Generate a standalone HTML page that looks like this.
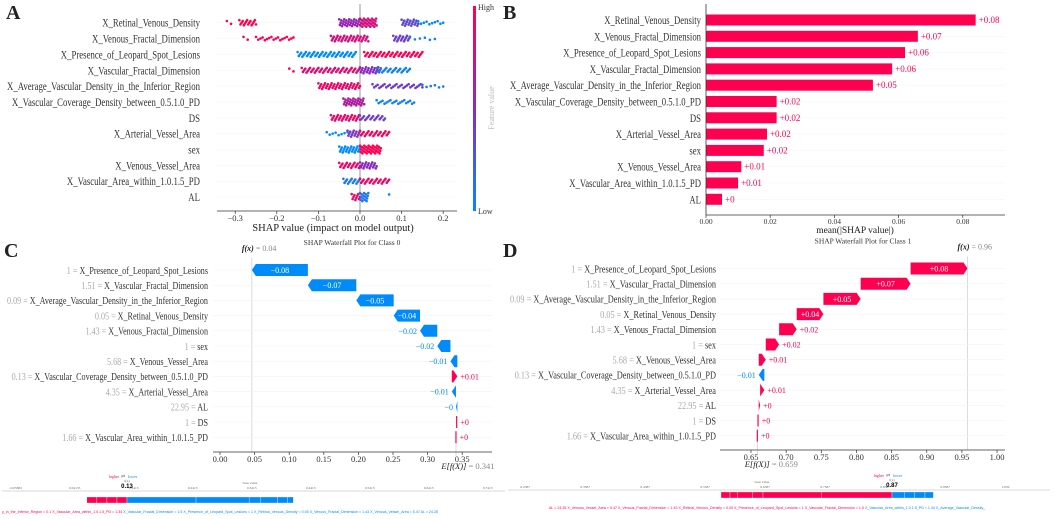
<!DOCTYPE html>
<html><head><meta charset="utf-8"><style>
html,body{margin:0;padding:0;background:#fff;}
svg{display:block;font-family:"Liberation Serif",serif;}
</style></head><body>
<svg id="fig" width="1059" height="519" viewBox="0 0 1059 519" xmlns="http://www.w3.org/2000/svg">
<defs>
<linearGradient id="cbar" x1="0" y1="1" x2="0" y2="0">
<stop offset="0" stop-color="#008bfb"/><stop offset="0.5" stop-color="#8a2bbf"/><stop offset="1" stop-color="#ff0051"/>
</linearGradient>
</defs>
<g font-weight="bold" font-size="20" fill="#222">
<text x="6" y="19">A</text>
<text x="503" y="19">B</text>
<text x="4" y="257">C</text>
<text x="503" y="257">D</text>
</g>
</svg>
<script>
// ---------- data ----------
const beeFeatures = ["X_Retinal_Venous_Density","X_Venous_Fractal_Dimension","X_Presence_of_Leopard_Spot_Lesions","X_Vascular_Fractal_Dimension","X_Average_Vascular_Density_in_the_Inferior_Region","X_Vascular_Coverage_Density_between_0.5.1.0_PD","DS","X_Arterial_Vessel_Area","sex","X_Venous_Vessel_Area","X_Vascular_Area_within_1.0.1.5_PD","AL"];
// clusters per feature: [shapMin, shapMax, count, featureValue(0 low..1 high)]
const beeClusters = [
 [[-0.32,-0.31,2,1],[-0.29,-0.25,16,1],[-0.05,0.0,30,0.55],[0.0,0.04,30,0.8],[0.1,0.14,20,0.35],[0.14,0.2,10,0]],
 [[-0.28,-0.27,2,1],[-0.25,-0.16,18,1],[-0.07,0.02,40,0.8],[0.08,0.12,18,0.4],[0.12,0.18,6,0.05]],
 [[-0.15,-0.01,50,0],[0.01,0.15,50,1]],
 [[-0.17,-0.16,2,1],[-0.14,0.0,50,0.85],[0.0,0.05,25,0.5],[0.04,0.12,25,0.05]],
 [[-0.1,0.0,45,0.9],[0.03,0.15,30,0.4],[0.15,0.2,6,0.1]],
 [[-0.04,0.01,30,0.65],[0.04,0.13,20,0.05]],
 [[-0.07,0.0,30,0.9],[0.0,0.06,20,0.4]],
 [[-0.08,-0.03,8,0],[-0.03,0.0,15,0.45],[0.0,0.07,25,0.95]],
 [[-0.05,0.0,25,0],[0.0,0.05,35,1]],
 [[-0.05,0.0,20,0.9],[0.0,0.04,20,0.5]],
 [[-0.04,0.0,15,0.1],[0.0,0.07,25,0.9]],
 [[-0.02,0.0,10,0.9],[0.0,0.02,15,0.1],[0.07,0.07,1,0]]
];
const beeTicks = [-0.3,-0.2,-0.1,0.0,0.1,0.2];

const barFeatures = beeFeatures;
const barValues = [0.084,0.066,0.062,0.058,0.052,0.022,0.022,0.019,0.018,0.011,0.010,0.005];
const barLabels = ["+0.08","+0.07","+0.06","+0.06","+0.05","+0.02","+0.02","+0.02","+0.02","+0.01","+0.01","+0"];
const barTicks = [0,0.02,0.04,0.06,0.08];
const barTickLabels = ["0.00","0.02","0.04","0.06","0.08"];

const wfFeatures = ["X_Presence_of_Leopard_Spot_Lesions","X_Vascular_Fractal_Dimension","X_Average_Vascular_Density_in_the_Inferior_Region","X_Retinal_Venous_Density","X_Venous_Fractal_Dimension","sex","X_Venous_Vessel_Area","X_Vascular_Coverage_Density_between_0.5.1.0_PD","X_Arterial_Vessel_Area","AL","DS","X_Vascular_Area_within_1.0.1.5_PD"];
const wfFeatureValues = ["1","1.51","0.09","0.05","1.43","1","5.68","0.13","4.35","22.95","1","1.66"];
const wfC_values = [-0.081,-0.070,-0.054,-0.038,-0.025,-0.019,-0.010,0.008,-0.006,-0.002,0.001,0.001];
const wfC_labels = ["\u22120.08","\u22120.07","\u22120.05","\u22120.04","\u22120.02","\u22120.02","\u22120.01","+0.01","\u22120.01","\u22120","+0","+0"];
const wfC_base = 0.341;
const wfC_ticks = [0,0.05,0.1,0.15,0.2,0.25,0.3,0.35];
const wfC_tickLabels = ["0.00","0.05","0.10","0.15","0.20","0.25","0.30","0.35"];
const wfD_values = [0.081,0.071,0.053,0.038,0.025,0.019,0.010,-0.008,0.006,0.002,0.001,0.001];
const wfD_labels = ["+0.08","+0.07","+0.05","+0.04","+0.02","+0.02","+0.01","\u22120.01","+0.01","+0","+0","+0"];
const wfD_base = 0.659;
const wfD_ticks = [0.65,0.7,0.75,0.8,0.85,0.9,0.95,1.0];
const wfD_tickLabels = ["0.65","0.70","0.75","0.80","0.85","0.90","0.95","1.00"];

// force plots: segment widths in output units
const forceC_red = [0.017,0.017,0.017,0.017];
const forceC_blue = [0.117,0.09,0.019,0.029,0.017,0.01];
const forceC_fx = 0.13;
const forceD_red = [0.015,0.012,0.025,0.018,0.097,0.118];
const forceD_blue = [0.021,0.017,0.017,0.014];
const forceD_fx = 0.87;

// ---------- helpers ----------
const svg = document.getElementById('fig');
const NS = 'http://www.w3.org/2000/svg';
function mk(tag, attrs, parent){const e=document.createElementNS(NS,tag);for(const k in attrs)e.setAttribute(k,attrs[k]);(parent||svg).appendChild(e);return e;}
function txt(x,y,s,attrs,parent){const e=mk('text',Object.assign({x:x,y:y},attrs||{}),parent);e.textContent=s;return e;}
function fit(list,maxW){
  let m=0;const lens=list.map(e=>{const l=e.getComputedTextLength();m=Math.max(m,l);return l;});
  if(m<=0)return;const f=maxW/m;
  list.forEach((e,i)=>{e.setAttribute('textLength',(lens[i]*f).toFixed(1));e.setAttribute('lengthAdjust','spacingAndGlyphs');});
}
const RED='#ff0051', BLUE='#008bfb';
function mixColor(t){
  const a=[0,139,251], m=[138,43,191], b=[255,0,81];
  let c;
  if(t<0.5){const u=t/0.5;c=a.map((v,i)=>Math.round(v+(m[i]-v)*u));}
  else{const u=(t-0.5)/0.5;c=m.map((v,i)=>Math.round(v+(b[i]-v)*u));}
  return 'rgb('+c.join(',')+')';
}

// ---------- Panel A: beeswarm ----------
(function(){
  const g=mk('g',{});
  
  
  const x0=360, k=416; const xs=v=>x0+v*k;
  const y0=22.7, dy=15.85; const ys=i=>y0+i*dy;
  const labs=[];
  beeFeatures.forEach((f,i)=>{
    mk('line',{x1:217,x2:457,y1:ys(i),y2:ys(i),stroke:'#eee','stroke-width':0.6,'stroke-dasharray':'1,1'},g);
    const t=txt(200,ys(i)+4,f,{'text-anchor':'end','font-size':11.5,fill:'#333'},g);
    
    
    labs.push(t);
  });
  fit(labs,193);
  mk('line',{x1:xs(0),x2:xs(0),y1:4,y2:211,stroke:'#aaa','stroke-width':1.2},g);
  beeClusters.forEach((cl,i)=>{
    cl.forEach(c=>{
      const n=c[2];
      for(let j=0;j<n;j++){
        const v = n>1 ? c[0]+(c[1]-c[0])*j/(n-1) : c[0];
        const spread = Math.min(4.5, 0.8+ n/(Math.max(1,(c[1]-c[0])*k))*1.8);
        const off = (((j*5)%7)-3)/3*spread;
        const d=mk('circle',{cx:xs(v),cy:ys(i)+off,r:1.3,fill:mixColor(c[3])},g);
        
        
      }
    });
  });
  mk('line',{x1:217,x2:457,y1:211,y2:211,stroke:'#333','stroke-width':0.8},g);
  beeTicks.forEach(t=>{
    mk('line',{x1:xs(t),x2:xs(t),y1:211,y2:214,stroke:'#333','stroke-width':0.7},g);
    const l=txt(xs(t),221,(t<0?'\u2212':'')+Math.abs(t).toFixed(1),{'text-anchor':'middle','font-size':8.5,fill:'#333'},g);
    
    
  });
  const xl=txt(333,231,'SHAP value (impact on model output)',{'text-anchor':'middle','font-size':10.5,fill:'#222'},g);
  
  
  const cb=mk('rect',{x:473,y:6,width:3,height:205,fill:'url(#cbar)'},g);
  
  
  txt(478,10,'High',{'font-size':8,fill:'#333'},g);
  txt(478,214,'Low',{'font-size':8,fill:'#333'},g);
  const fv=txt(0,0,'Feature value',{'font-size':8,fill:'#bbb','text-anchor':'middle',transform:'translate(494,108) rotate(-90)'},g);
  
  
})();

// ---------- Panel B: bar ----------
(function(){
  const g=mk('g',{});
  
  
  const x0=706, k=3210; const xs=v=>x0+v*k;
  const y0=20, dy=16.3; const ys=i=>y0+i*dy;
  const labs=[];
  barFeatures.forEach((f,i)=>{
    mk('line',{x1:x0,x2:1005,y1:ys(i),y2:ys(i),stroke:'#eee','stroke-width':0.6,'stroke-dasharray':'1,1'},g);
    const t=txt(701,ys(i)+4,f,{'text-anchor':'end','font-size':11.5,fill:'#333'},g);
    
    
    labs.push(t);
    const b=mk('rect',{x:x0,y:ys(i)-5.5,width:barValues[i]*k,height:11,fill:RED},g);
    
    
    const v=txt(xs(barValues[i])+3,ys(i)+3,barLabels[i],{'font-size':9,fill:RED},g);
    
    
  });
  fit(labs,191);
  mk('line',{x1:x0,x2:x0,y1:4,y2:215,stroke:'#333','stroke-width':0.8},g);
  mk('line',{x1:x0,x2:1005,y1:215,y2:215,stroke:'#333','stroke-width':0.8},g);
  barTicks.forEach((t,i)=>{
    mk('line',{x1:xs(t),x2:xs(t),y1:215,y2:218,stroke:'#333','stroke-width':0.7},g);
    const l=txt(xs(t),224,barTickLabels[i],{'text-anchor':'middle','font-size':7.5,fill:'#333'},g);
    
    
  });
  const xl=txt(855,233,'mean(|SHAP value|)',{'text-anchor':'middle','font-size':9.5,fill:'#222'},g);
  
  
})();

// ---------- Waterfall panels ----------
function waterfall(opt){
  const g=mk('g',{});
  
  
  const xs=v=>opt.x0+(v-opt.v0)*opt.k;
  const ys=i=>opt.y0+i*opt.dy;
  const vals=opt.values, n=vals.length;
  let cum=opt.base; const starts=new Array(n), ends=new Array(n);
  for(let i=n-1;i>=0;i--){starts[i]=cum;cum+=vals[i];ends[i]=cum;}
  const fx=cum;
  mk('line',{x1:xs(fx),x2:xs(fx),y1:opt.y0-12,y2:opt.axisY,stroke:'#ccc','stroke-width':0.7},g);
  mk('line',{x1:xs(opt.base),x2:xs(opt.base),y1:ys(n-1),y2:opt.axisY+4,stroke:'#ccc','stroke-width':0.7},g);
  const tt=txt(opt.titleX,opt.y0-25,opt.title,{'text-anchor':'middle','font-size':7.5,fill:'#333'},g);
  
  
  const ft=txt(xs(fx)-10,opt.y0-19,'',{'font-size':8,fill:'#888','text-anchor':'start'},g);
  
  
  const ts1=mk('tspan',{'font-style':'italic',fill:'#222','font-weight':'bold'},ft);ts1.textContent='f(x)';
  const ts2=mk('tspan',{},ft);ts2.textContent=' = '+opt.fxText;
  const labs=[];
  for(let i=0;i<n;i++){
    const y=ys(i);
    const lab=txt(opt.labelX,y+3.8,'',{'text-anchor':'end','font-size':10.5,fill:'#333'},g);
    
    
    const a=mk('tspan',{fill:'#aaa'},lab);a.textContent=opt.fvals[i]+' = ';
    const b=mk('tspan',{},lab);b.textContent=opt.features[i];
    labs.push(lab);
    mk('line',{x1:opt.axisL,x2:opt.axisR,y1:y,y2:y,stroke:'#f2f2f2','stroke-width':0.6},g);
    const v=vals[i], pos=v>=0;
    const xa=xs(starts[i]), xb=xs(ends[i]);
    const h=6;
    const len=Math.abs(xb-xa), head=Math.min(4,len);
    let pts;
    if(pos) pts=[[xa,y-h],[xb-head,y-h],[xb,y],[xb-head,y+h],[xa,y+h]];
    else pts=[[xa,y-h],[xb+head,y-h],[xb,y],[xb+head,y+h],[xa,y+h]];
    if(len<1.2){pts=[[xa-0.6,y-h],[xa+0.6,y-h],[xa+0.6,y+h],[xa-0.6,y+h]];}
    const p=mk('polygon',{points:pts.map(q=>q.join(',')).join(' '),fill:pos?RED:BLUE},g);
    
    
    let lt;
    if(len>26){
      lt=txt((xa+xb)/2,y+3,opt.labels[i],{'text-anchor':'middle','font-size':8,fill:'#fff'},g);
    } else if(pos){
      lt=txt(Math.max(xa,xb)+3,y+3,opt.labels[i],{'font-size':8,fill:RED},g);
    } else {
      lt=txt(Math.min(xa,xb)-3,y+3,opt.labels[i],{'text-anchor':'end','font-size':8,fill:BLUE},g);
    }
    
    
  }
  fit(labs,opt.labelW);
  mk('line',{x1:opt.axisL,x2:opt.axisR,y1:opt.axisY,y2:opt.axisY,stroke:'#333','stroke-width':0.8},g);
  opt.ticks.forEach((t,i)=>{
    mk('line',{x1:xs(t),x2:xs(t),y1:opt.axisY,y2:opt.axisY+3,stroke:'#333','stroke-width':0.7},g);
    const l=txt(xs(t),opt.axisY+10,opt.tickLabels[i],{'text-anchor':'middle','font-size':8.5,fill:'#333'},g);
    
    
  });
  const et=txt(xs(opt.base)+opt.eOff,opt.axisY+17,'',{'font-size':8.5,fill:'#888','text-anchor':'middle'},g);
  
  
  const e1=mk('tspan',{'font-style':'italic',fill:'#222'},et);e1.textContent='E[f(X)]';
  const e2=mk('tspan',{},et);e2.textContent=' = '+opt.base;
}
waterfall({name:'waterfall-class-0',x0:220,v0:0,k:692,y0:270,dy:15.2,axisY:452,axisL:213,axisR:492,labelX:208,labelW:201,
  values:wfC_values,labels:wfC_labels,base:wfC_base,features:wfFeatures,fvals:wfFeatureValues,
  ticks:wfC_ticks,tickLabels:wfC_tickLabels,title:'SHAP Waterfall Plot for Class 0',titleX:352,fxText:'0.04',eOff:12});
waterfall({name:'waterfall-class-1',x0:751,v0:0.65,k:703,y0:268.5,dy:15.2,axisY:450,axisL:720,axisR:1005,labelX:716,labelW:206,
  values:wfD_values,labels:wfD_labels,base:wfD_base,features:wfFeatures,fvals:wfFeatureValues,
  ticks:wfD_ticks,tickLabels:wfD_tickLabels,title:'SHAP Waterfall Plot for Class 1',titleX:863,fxText:'0.96',eOff:14});

// ---------- Force plots ----------
function force(opt){
  const g=mk('g',{});
  
  
  mk('line',{x1:opt.L,x2:opt.R,y1:opt.axisY,y2:opt.axisY,stroke:'#ccc','stroke-width':0.7},g);
  const xs=v=>opt.fxX+(v-opt.fx)*opt.k;
  opt.tickVals.forEach((v,i)=>{
    txt(xs(v),opt.axisY-2,opt.tickText[i],{'text-anchor':'middle','font-size':3.5,fill:'#666'},g);
  });
  const redW=opt.red.reduce((a,b)=>a+b,0);
  let x=xs(opt.fx-redW);
  opt.red.forEach(w=>{
    const r=mk('rect',{x:x,y:opt.barY,width:w*opt.k,height:6,fill:RED,stroke:'#fff','stroke-width':0.3},g);
    
    
    x+=w*opt.k;
  });
  x=xs(opt.fx);
  opt.blue.forEach(w=>{
    const r=mk('rect',{x:x,y:opt.barY,width:w*opt.k,height:6,fill:BLUE,stroke:'#fff','stroke-width':0.3},g);
    
    
    x+=w*opt.k;
  });
  const fl=txt(xs(opt.fx),opt.axisY-3,opt.fx.toFixed(2),{'text-anchor':'middle','font-size':6,'font-weight':'bold',fill:'#000','font-family':'Liberation Sans, sans-serif'},g);
  
  
  txt(xs(opt.fx),opt.axisY-9,'f(x)',{'text-anchor':'middle','font-size':3.5,fill:'#666'},g);
  const hl=txt(xs(opt.fx)-8,opt.axisY-13,'higher',{'text-anchor':'end','font-size':4,fill:RED},g);
  txt(xs(opt.fx)-6,opt.axisY-13,'\u21c4',{'font-size':5,fill:'#888'},g);
  txt(xs(opt.fx)+1,opt.axisY-13,'lower',{'font-size':4,fill:BLUE},g);
  
  
  txt(opt.baseX,opt.axisY-7,'base value',{'text-anchor':'middle','font-size':3.5,fill:'#666'},g);
  const lab=txt(opt.labX,opt.labY,'',{'font-size':3.6,'font-family':'Liberation Sans, sans-serif'},g);
  
  
  opt.labels.forEach(l=>{const t=mk('tspan',{fill:l[1]?RED:BLUE},lab);t.textContent=l[0]+'   ';});
}
force({name:'force-plot-class-0',L:2,R:505,axisY:491,barY:497,fx:forceC_fx,fxX:127,k:590,baseX:250,labX:2,labY:513,
  tickVals:[-0.05865,0.04135,0.1413,0.2413,0.3413,0.4413,0.5413,0.6413,0.7413],
  tickText:['-0.05865','0.04135','0.1413','0.2413','0.3413','0.4413','0.5413','0.6413','0.7413'],
  red:forceC_red,blue:forceC_blue,
  labels:[['y_in_the_Inferior_Region = 0.1',1],['X_Vascular_Area_within_1.0.1.5_PD = 1.34',1],['X_Vascular_Fractal_Dimension = 1.5',0],['X_Presence_of_Leopard_Spot_Lesions = 1',0],['X_Retinal_Venous_Density = 0.05',0],['X_Venous_Fractal_Dimension = 1.43',0],['X_Venous_Vessel_Area = 5.47',0],['AL = 24.35',0]]});
force({name:'force-plot-class-1',L:508,R:1050,axisY:490,barY:492,fx:forceD_fx,fxX:892,k:600,baseX:762,labX:549,labY:509,
  tickVals:[0.2587,0.3587,0.4587,0.5587,0.6587,0.7587,0.8587,0.9587,1.059],
  tickText:['0.2587','0.3587','0.4587','0.5587','0.6587','0.7587','0.8587','0.9587','1.059'],
  red:forceD_red,blue:forceD_blue,
  labels:[['AL = 24.35',1],['X_Venous_Vessel_Area = 5.47',1],['X_Venous_Fractal_Dimension = 1.43',1],['X_Retinal_Venous_Density = 0.05',1],['X_Presence_of_Leopard_Spot_Lesions = 1',1],['X_Vascular_Fractal_Dimension = 1.5',1],['X_Vascular_Area_within_1.0.1.5_PD = 1.34',0],['X_Average_Vascular_Density_',0]]});
</script>
</body></html>
